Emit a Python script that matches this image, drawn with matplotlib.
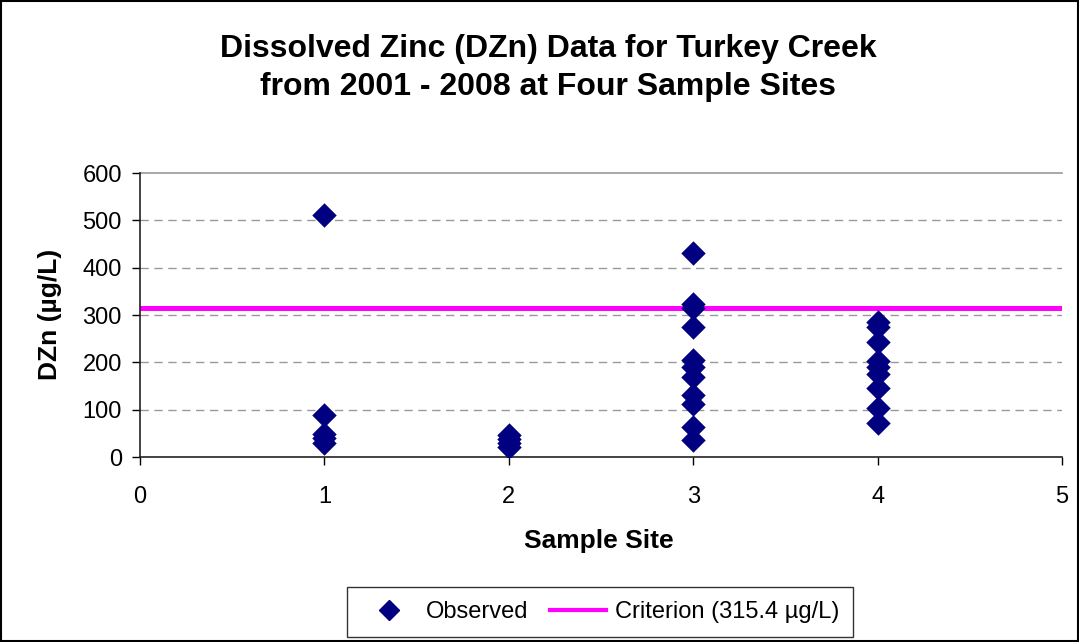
import matplotlib
matplotlib.use("Agg")
import matplotlib.pyplot as plt
from matplotlib.lines import Line2D
from matplotlib.patches import Rectangle

plt.rcParams['font.family'] = ['Liberation Sans', 'DejaVu Sans']

site1 = [512, 88, 48, 40, 30]
site2 = [46, 38, 30, 22]
site3 = [431, 323, 315, 275, 205, 190, 170, 130, 112, 63, 35]
site4 = [285, 275, 243, 203, 190, 175, 145, 103, 72]
sites = [1, 2, 3, 4]
criterion = 315.4

title = "Dissolved Zinc (DZn) Data for Turkey Creek\nfrom 2001 - 2008 at Four Sample Sites"
xlabel = "Sample Site"
ylabel = "DZn (µg/L)"
yticks = [0, 100, 200, 300, 400, 500, 600]
xticks = [0, 1, 2, 3, 4, 5]
legend_labels = ['Observed', 'Criterion (315.4 µg/L)']

W, H = 1079, 642
fig = plt.figure(figsize=(W/100, H/100), dpi=100)
ax = fig.add_axes([140/W, 1-457/H, (1062-140)/W, (457-173)/H])

xs, ys = [], []
for s, vals in zip(sites, [site1, site2, site3, site4]):
    xs += [s]*len(vals)
    ys += vals

ax.axhline(criterion, color='#FF00FF', lw=3.6, zorder=2)
ax.scatter(xs, ys, marker='D', s=155, color='#000080', zorder=3, linewidths=0)

ax.set_xlim(0, 5)
ax.set_ylim(0, 600)
ax.set_xticks(xticks)
ax.set_yticks(yticks)
for y in yticks[1:-1]:
    ax.axhline(y, color='#999999', lw=1, dashes=(6, 4), zorder=1)
ax.axhline(yticks[-1], color='#999999', lw=1.2, zorder=1, clip_on=False)
for sp in ['top', 'right']:
    ax.spines[sp].set_visible(False)
for sp in ['left', 'bottom']:
    ax.spines[sp].set_color('#222222')
    ax.spines[sp].set_linewidth(1.2)
ax.tick_params(axis='both', direction='out', length=6, width=1, labelsize=17)
ax.tick_params(axis='x', pad=15)
ax.tick_params(axis='y', pad=7)

ax.set_xlabel(xlabel, fontsize=19, fontweight='bold')
ax.xaxis.set_label_coords(0.498, (457-541)/284)
ax.xaxis.label.set_va('center')
ax.set_ylabel(ylabel, fontsize=19, fontweight='bold')
ax.yaxis.set_label_coords((50-140)/922, (457-314)/284)
ax.yaxis.label.set_va('center')

fig.text(548/W, 1-68/H, title, ha='center', va='center', fontsize=23,
         fontweight='bold', linespacing=1.38)

handles = [Line2D([], [], marker='D', ls='none', color='#000080', markersize=10),
           Line2D([], [], color='#FF00FF', lw=3)]
leg = fig.legend(handles, legend_labels, loc='center',
                 bbox_to_anchor=(600/W, 1-612/H), ncol=2, fontsize=17,
                 frameon=True, fancybox=False, edgecolor='black', handlelength=2.4,
                 columnspacing=0.9, handletextpad=0.35, borderpad=0.6,
                 borderaxespad=0)
leg.get_frame().set_linewidth(1)

fig.patches.append(Rectangle((0.0008, 0.001), 0.9985, 0.997, transform=fig.transFigure,
                             fill=False, edgecolor='black', lw=1.5))

fig.savefig('out.png', dpi=100)
